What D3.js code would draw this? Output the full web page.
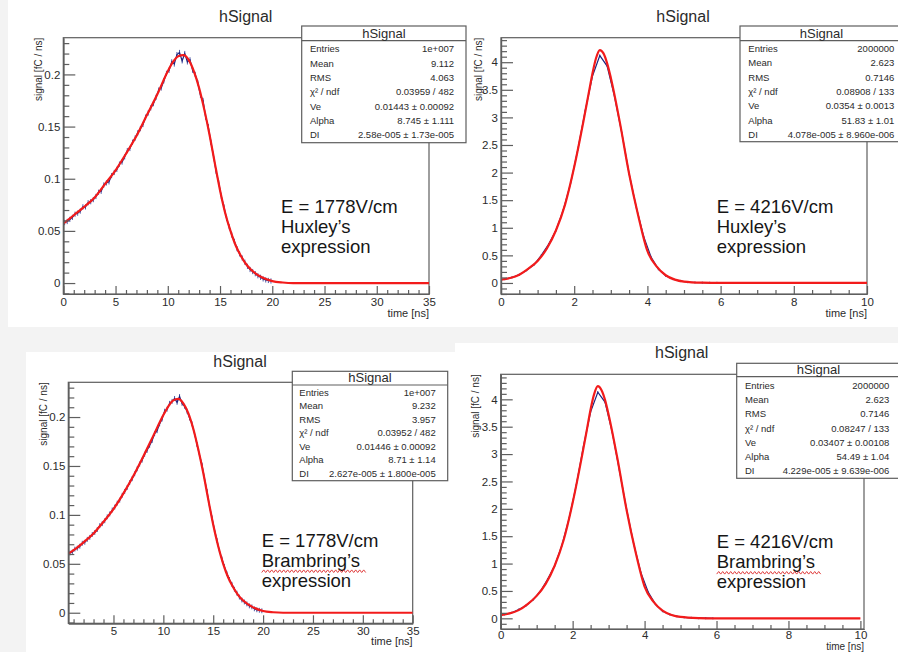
<!DOCTYPE html>
<html>
<head>
<meta charset="utf-8">
<script src="https://cdn.jsdelivr.net/npm/d3@7"></script>
<style>
body{margin:0;background:#f3f3f3;}
svg{display:block;font-family:"Liberation Sans",Arial,Helvetica,sans-serif;}
</style>
</head>
<body>
<div id="chart"></div>
<script>
// ---- data ----
const statLabels = ["Entries", "Mean", "RMS", "χ² / ndf", "Ve", "Alpha", "DI"]
const stats1 = ["1e+007", "9.112", "4.063", "0.03959 / 482", "0.01443 ± 0.00092", "8.745 ± 1.111", "2.58e-005 ± 1.73e-005"]
const stats2 = ["2000000", "2.623", "0.7146", "0.08908 / 133", "0.0354 ± 0.0013", "51.83 ± 1.01", "4.078e-005 ± 8.960e-006"]
const stats3 = ["1e+007", "9.232", "3.957", "0.03952 / 482", "0.01446 ± 0.00092", "8.71 ± 1.14", "2.627e-005 ± 1.800e-005"]
const stats4 = ["2000000", "2.623", "0.7146", "0.08247 / 133", "0.03407 ± 0.00108", "54.49 ± 1.04", "4.229e-005 ± 9.639e-006"]

const note1 = ["E = 1778V/cm", "Huxley’s", "expression"]
const note2 = ["E = 4216V/cm", "Huxley’s", "expression"]
const note3 = ["E = 1778V/cm", "Brambring’s", "expression"]
const note4 = ["E = 4216V/cm", "Brambring’s", "expression"]

const xTicksSlow = [0, 5, 10, 15, 20, 25, 30, 35]
const xTicksSlowB = [5, 10, 15, 20, 25, 30, 35]
const yTicksSlow = [0, 0.05, 0.1, 0.15, 0.2]
const xTicksFast = [0, 2, 4, 6, 8, 10]
const yTicksFast = [0, 0.5, 1, 1.5, 2, 2.5, 3, 3.5, 4]

// fit curves [time, signal]
const fit1 = [[0,0.057],[1,0.065],[2,0.073],[3,0.082],[4,0.095],[5,0.108],[6,0.124],[7,0.141],[8,0.161],[9,0.181],[10,0.203],[10.5,0.212],[11,0.2175],[11.5,0.2185],[12,0.214],[12.5,0.203],[13,0.187],[13.5,0.166],[14,0.142],[14.5,0.115],[15,0.089],[15.5,0.067],[16,0.05],[16.5,0.036],[17,0.026],[17.5,0.018],[18,0.0125],[19,0.0055],[20,0.0018],[21,0.0005],[22,0],[35,0]]
const fit2 = [[0,0.06],[0.25,0.09],[0.5,0.15],[0.75,0.26],[1,0.4],[1.25,0.62],[1.5,0.95],[1.75,1.42],[2,2.1],[2.25,2.92],[2.4,3.45],[2.5,3.8],[2.6,4.08],[2.7,4.22],[2.8,4.16],[2.9,3.98],[3,3.72],[3.25,2.9],[3.5,1.98],[3.75,1.22],[4,0.58],[4.25,0.3],[4.5,0.14],[4.75,0.06],[5,0.025],[5.5,0.005],[6,0],[10,0]]
const fit3 = [[0.47,0.0605],[1,0.064],[2,0.072],[3,0.081],[4,0.093],[5,0.106],[6,0.122],[7,0.14],[8,0.16],[9,0.181],[10,0.202],[10.5,0.211],[11,0.217],[11.5,0.2185],[12,0.214],[12.5,0.204],[13,0.188],[13.5,0.167],[14,0.143],[14.5,0.116],[15,0.09],[15.5,0.068],[16,0.05],[16.5,0.036],[17,0.026],[17.5,0.018],[18,0.0125],[19,0.0055],[20,0.0018],[21,0.0005],[22,0],[35,0]]
const fit4 = [[0,0.06],[0.25,0.09],[0.5,0.15],[0.75,0.26],[1,0.41],[1.25,0.63],[1.5,0.96],[1.75,1.43],[2,2.11],[2.25,2.93],[2.4,3.46],[2.5,3.82],[2.6,4.1],[2.7,4.24],[2.8,4.17],[2.9,3.99],[3,3.72],[3.25,2.9],[3.5,1.98],[3.75,1.21],[4,0.58],[4.25,0.3],[4.5,0.14],[4.75,0.06],[5,0.025],[5.5,0.005],[6,0],[10,0]]

// histogram contents (bin centres start + i*step)
const hist1Start = 0.125, hist1Step = 0.25
const hist1 = [0.058,0.059,0.061,0.063,0.066,0.067,0.069,0.073,
  0.073,0.077,0.078,0.080,0.083,0.087,0.088,0.094,
  0.096,0.097,0.103,0.106,0.109,0.114,0.116,0.121,
  0.127,0.129,0.135,0.139,0.144,0.148,0.152,0.159,
  0.163,0.168,0.172,0.178,0.185,0.187,0.194,0.201,
  0.204,0.212,0.210,0.219,0.221,0.213,0.220,0.212,
  0.214,0.204,0.200,0.192,0.180,0.175,0.159,0.150,
  0.135,0.122,0.107,0.096,0.083,0.073,0.062,0.054,
  0.046,0.040,0.033,0.028,0.024,0.020,0.016,0.013,
  0.011,0.009,0.007,0.0055,0.004,0.003,0.0025,0.002]
const hist2Start = 0.1, hist2Step = 0.2
const hist2 = [0.07,0.10,0.15,0.23,0.33,0.50,0.70,0.95,1.32,1.80,2.42,3.12,3.75,4.12,3.93,3.38,2.72,1.98,1.36,0.84,0.47,0.25,0.13,0.07,0.035,0.015,0.008,0.004,0.002,0.001]
const hist3Start = 0.625, hist3Step = 0.25
const hist3 = [0.061,0.062,0.065,0.066,0.068,0.071,
  0.072,0.075,0.077,0.080,0.082,0.085,0.089,0.091,
  0.094,0.098,0.101,0.105,0.108,0.112,0.115,0.120,
  0.124,0.128,0.133,0.137,0.142,0.147,0.152,0.156,
  0.162,0.166,0.171,0.176,0.183,0.186,0.193,0.198,
  0.206,0.208,0.214,0.216,0.219,0.215,0.221,0.214,
  0.211,0.206,0.199,0.193,0.183,0.172,0.161,0.151,
  0.137,0.124,0.109,0.097,0.085,0.074,0.063,0.055,
  0.047,0.040,0.034,0.029,0.024,0.020,0.016,0.013,
  0.011,0.009,0.007,0.006,0.004,0.003,0.0025,0.002]
const hist4Start = 0.1, hist4Step = 0.2
const hist4 = [0.07,0.10,0.16,0.23,0.34,0.49,0.71,0.96,1.33,1.82,2.43,3.14,3.77,4.13,3.95,3.40,2.70,1.99,1.35,0.83,0.48,0.26,0.13,0.07,0.035,0.016,0.008,0.004,0.002,0.001]

// ---- layout ----
const width = 898
const height = 652
const sheets = [
  {x:8, y:0, w:890, h:327},
  {x:26, y:352, w:429, h:300},
  {x:455, y:343, w:443, h:309}
]

const panels = [
  {fit:fit1, hist:hist1, hStart:hist1Start, hStep:hist1Step, err:0.0025, stats:stats1, note:note1, wavy:false,
   xDomain:[0,35], yDomain:[-0.0105,0.2352], xTicks:xTicksSlow, xMinor:1, yTicks:yTicksSlow, yMinor:0.01,
   fx0:63.3, fx1:429, fy0:37.7, fy1:294, titleX:245.7, titleY:22, xlabDy:23, xlabSize:11, xPad:4,
   box:{x0:301.7, x1:466, y0:26, y1:142.7, head:40.7, row0:49, dy:14.3, labX:310, valX:454},
   noteX:281, noteY:213, ylabX:38},
  {fit:fit2, hist:hist2, hStart:hist2Start, hStep:hist2Step, err:0.02, stats:stats2, note:note2, wavy:false,
   xDomain:[0,10], yDomain:[-0.2,4.444], xTicks:xTicksFast, xMinor:0.5, yTicks:yTicksFast, yMinor:0.1,
   fx0:501, fx1:867, fy0:37.7, fy1:294, titleX:683, titleY:22, xlabDy:23, xlabSize:11, xPad:4,
   box:{x0:740, x1:903, y0:26, y1:141.7, head:40.7, row0:48.3, dy:14.45, labX:748.3, valX:894.3},
   noteX:716.7, noteY:213, ylabX:478},
  {fit:fit3, hist:hist3, hStart:hist3Start, hStep:hist3Step, err:0.0025, stats:stats3, note:note3, wavy:true,
   xDomain:[0.47,35], yDomain:[-0.0108,0.2355], xTicks:xTicksSlowB, xMinor:1, yTicks:yTicksSlow, yMinor:0.01,
   fx0:68.3, fx1:412.7, fy0:382.3, fy1:623.3, titleX:240, titleY:367, xlabDy:22, xlabSize:11, xPad:4,
   box:{x0:292.3, x1:447.7, y0:371.3, y1:480.7, head:385, row0:392.3, dy:13.5, labX:299.3, valX:435.7},
   noteX:261.7, noteY:546.7, ylabX:43.3},
  {fit:fit4, hist:hist4, hStart:hist4Start, hStep:hist4Step, err:0.02, stats:stats4, note:note4, wavy:true,
   xDomain:[0,10.1], yDomain:[-0.195,4.457], xTicks:xTicksFast, xMinor:0.5, yTicks:yTicksFast, yMinor:0.1,
   fx0:500.7, fx1:864, fy0:374.3, fy1:629, titleX:681.7, titleY:358, xlabDy:21, xlabSize:10, xPad:2,
   box:{x0:736.7, x1:900, y0:363.3, y1:478.3, head:376.7, row0:385.3, dy:14.3, labX:745, valX:889.3},
   noteX:716.7, noteY:548.3, ylabX:475}
]

const axisColor = '#5e5e5e'
const textColor = '#2b2b2b'

const svg = d3.select('#chart').append('svg')
  .attr('width', width)
  .attr('height', height)

svg.append('rect').attr('width', width).attr('height', height).attr('fill', '#f3f3f3')
svg.selectAll('rect.sheet').data(sheets).enter().append('rect')
  .attr('class', 'sheet')
  .attr('x', d=>d.x).attr('y', d=>d.y)
  .attr('width', d=>d.w).attr('height', d=>d.h)
  .attr('fill', '#fff')

const minorValues = (domain, step, majors)=>{
  const out = []
  for (let k = Math.ceil(domain[0]/step - 1e-9); k*step <= domain[1] + 1e-9; k++) {
    const v = +(k*step).toFixed(6)
    if (!majors.some(m=>Math.abs(m - v) < 1e-9)) out.push(v)
  }
  return out
}

const drawPanel = (p, i)=>{
  const g = svg.append('g')
  const x = d3.scaleLinear().domain(p.xDomain).range([p.fx0, p.fx1])
  const y = d3.scaleLinear().domain(p.yDomain).range([p.fy1, p.fy0])

  g.append('clipPath').attr('id', 'clip' + i)
    .append('rect')
    .attr('x', p.fx0).attr('y', p.fy0)
    .attr('width', p.fx1 - p.fx0).attr('height', p.fy1 - p.fy0)

  // title
  g.append('text')
    .text('hSignal')
    .attr('x', p.titleX).attr('y', p.titleY)
    .attr('text-anchor', 'middle')
    .attr('font-size', 16)
    .attr('fill', textColor)

  // frame
  g.append('rect')
    .attr('x', p.fx0).attr('y', p.fy0)
    .attr('width', p.fx1 - p.fx0).attr('height', p.fy1 - p.fy0)
    .attr('fill', 'none')
    .attr('stroke', axisColor)
    .attr('stroke-width', 1.2)

  // data
  const plot = g.append('g').attr('clip-path', `url(#clip${i})`)
  const histPts = p.hist.map((v, j)=>[p.hStart + j*p.hStep, v])
  plot.selectAll('line.err').data(histPts).enter().append('line')
    .attr('class', 'err')
    .attr('x1', d=>x(d[0])).attr('x2', d=>x(d[0]))
    .attr('y1', d=>y(d[1] - p.err)).attr('y2', d=>y(d[1] + p.err))
    .attr('stroke', '#23308f')
    .attr('stroke-width', 0.8)
  plot.append('path')
    .datum(histPts)
    .attr('d', d3.line().x(d=>x(d[0])).y(d=>y(d[1])))
    .attr('fill', 'none')
    .attr('stroke', '#1b2580')
    .attr('stroke-width', 1.2)
  plot.append('path')
    .datum(p.fit)
    .attr('d', d3.line().x(d=>x(d[0])).y(d=>y(d[1])).curve(d3.curveMonotoneX))
    .attr('fill', 'none')
    .attr('stroke', '#f21b1b')
    .attr('stroke-width', 2.2)

  // axes
  const yAxis = d3.axisLeft(y).tickValues(p.yTicks).tickFormat(d=>String(d))
    .tickSizeInner(-12).tickSizeOuter(0).tickPadding(3)
  const yMinorAxis = d3.axisLeft(y).tickValues(minorValues(p.yDomain, p.yMinor, p.yTicks))
    .tickFormat('').tickSizeInner(-6).tickSizeOuter(0)
  const xAxis = d3.axisBottom(x).tickValues(p.xTicks).tickFormat(d=>String(d))
    .tickSizeInner(-8).tickSizeOuter(0).tickPadding(p.xPad)
  const xMinorAxis = d3.axisBottom(x).tickValues(minorValues(p.xDomain, p.xMinor, p.xTicks))
    .tickFormat('').tickSizeInner(-4).tickSizeOuter(0)

  const axisGroups = [
    g.append('g').attr('transform', `translate(${p.fx0},0)`).call(yMinorAxis),
    g.append('g').attr('transform', `translate(${p.fx0},0)`).call(yAxis),
    g.append('g').attr('transform', `translate(0,${p.fy1})`).call(xMinorAxis),
    g.append('g').attr('transform', `translate(0,${p.fy1})`).call(xAxis)
  ]
  axisGroups.forEach(a=>{
    a.selectAll('path,line').attr('stroke', axisColor).attr('stroke-width', 1.2)
    a.selectAll('text').attr('fill', textColor).attr('font-size', 11.5)
      .attr('font-family', '"Liberation Sans",Arial,sans-serif')
  })

  g.append('text')
    .text('time [ns]')
    .attr('x', p.fx1).attr('y', p.fy1 + p.xlabDy)
    .attr('text-anchor', 'end')
    .attr('font-size', p.xlabSize)
    .attr('fill', textColor)

  g.append('text')
    .text('signal [fC / ns]')
    .attr('transform', `translate(${p.ylabX + 3.5},${p.fy0}) rotate(-90)`)
    .attr('text-anchor', 'end')
    .attr('font-size', 10)
    .attr('fill', textColor)

  // stats box
  const b = p.box
  g.append('rect')
    .attr('x', b.x0).attr('y', b.y0)
    .attr('width', b.x1 - b.x0).attr('height', b.y1 - b.y0)
    .attr('fill', '#fff')
    .attr('stroke', axisColor)
    .attr('stroke-width', 1.2)
  g.append('line')
    .attr('x1', b.x0).attr('x2', b.x1)
    .attr('y1', b.head).attr('y2', b.head)
    .attr('stroke', axisColor)
    .attr('stroke-width', 1.2)
  g.append('text')
    .text('hSignal')
    .attr('x', (b.x0 + b.x1)/2).attr('y', b.head - 3)
    .attr('text-anchor', 'middle')
    .attr('font-size', 13)
    .attr('fill', textColor)
  const rows = g.selectAll('g.row').data(statLabels).enter().append('g')
    .attr('class', 'row')
    .attr('transform', (d, j)=>`translate(0,${b.row0 + j*b.dy + 3.3})`)
  rows.append('text')
    .text(d=>d)
    .attr('x', b.labX)
    .attr('font-size', 9.5)
    .attr('fill', textColor)
  rows.append('text')
    .text((d, j)=>p.stats[j])
    .attr('x', b.valX)
    .attr('text-anchor', 'end')
    .attr('font-size', 9.5)
    .attr('fill', textColor)

  // annotation
  const note = g.append('g')
  note.selectAll('text').data(p.note).enter().append('text')
    .text(d=>d)
    .attr('x', p.noteX)
    .attr('y', (d, j)=>p.noteY + j*20)
    .attr('font-size', 18.5)
    .attr('fill', '#161616')
  if (p.wavy) {
    const w = note.selectAll('text').nodes()[1].getComputedTextLength() + 6
    const pts = d3.range(0, w + 0.1, 2).map((d, j)=>[p.noteX + d, p.noteY + 20 + 4.5 + (j % 2 ? -1.3 : 1.3)])
    note.append('path')
      .attr('d', d3.line()(pts))
      .attr('fill', 'none')
      .attr('stroke', '#e04040')
      .attr('stroke-width', 1)
  }
}

panels.forEach(drawPanel)
</script>
</body>
</html>
